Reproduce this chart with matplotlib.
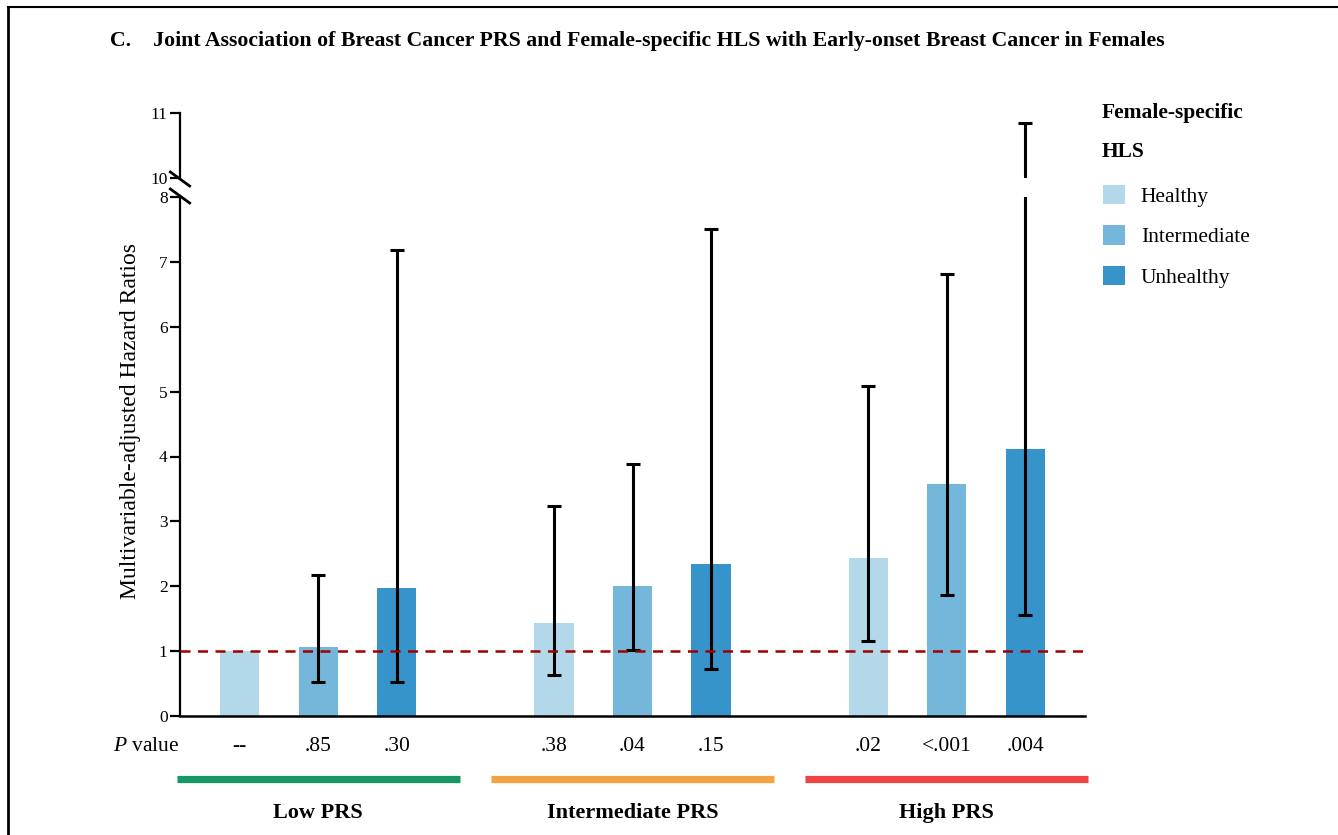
import numpy as np
import matplotlib
matplotlib.use('Agg')
import matplotlib.pyplot as plt
from matplotlib.lines import Line2D
from matplotlib.patches import Patch

plt.rcParams['font.family'] = ['Liberation Serif', 'DejaVu Serif']
plt.rcParams['mathtext.fontset'] = 'custom'
plt.rcParams['mathtext.rm'] = 'Liberation Serif'
plt.rcParams['mathtext.it'] = 'Liberation Serif:italic'

# data
groups = ['Low PRS', 'Intermediate PRS', 'High PRS']
hls = ['Healthy', 'Intermediate', 'Unhealthy']
hr = [1.00, 1.07, 1.97, 1.43, 2.00, 2.35, 2.43, 3.57, 4.11]
ci_low = [1.00, 0.52, 0.53, 0.63, 1.01, 0.72, 1.16, 1.86, 1.55]
ci_high = [1.00, 2.17, 7.19, 3.23, 3.89, 7.51, 5.08, 6.82, 10.85]
p_values = ['--', '.85', '.30', '.38', '.04', '.15', '.02', '<.001', '.004']

bar_colors = ['#b2d8ea', '#74b7db', '#3694cb']
group_colors = ['#169866', '#f5a243', '#ee4544']

# positions: 3 bars per group, one empty slot between groups
x = np.array([g * 4 + i for g in range(3) for i in range(3)], dtype=float)
colors = [bar_colors[i] for g in range(3) for i in range(3)]
hr = np.array(hr)
yerr = np.array([hr - np.array(ci_low), np.array(ci_high) - hr])
has_ci = np.array(ci_high) > np.array(ci_low)

W, H = 1338, 835
fig = plt.figure(figsize=(W / 100, H / 100), dpi=100)

# broken y axis: 0-8 below, 10-11 above
ax = fig.add_axes([180 / W, 1 - 716 / H, 905 / W, 519 / H])
ax_top = fig.add_axes([180 / W, 1 - 178 / H, 905 / W, 65 / H])

for a in (ax, ax_top):
    a.bar(x, hr, width=0.5, color=colors, zorder=2)
    a.errorbar(x[has_ci], hr[has_ci], yerr=yerr[:, has_ci], fmt='none',
               ecolor='black', elinewidth=2.2, capsize=5, capthick=2.2, zorder=3)
    a.set_xlim(-0.76, 10.76)
    a.spines['top'].set_visible(False)
    a.spines['right'].set_visible(False)
    a.spines['left'].set_linewidth(1.6)
    a.tick_params(axis='y', length=7, width=1.6, labelsize=12.5, pad=2)

ax.set_ylim(0, 8)
ax.set_yticks(range(0, 9))
ax.axhline(1, color='#a00000', linestyle=(0, (4, 3)), linewidth=1.8, zorder=4)
ax.spines['bottom'].set_linewidth(1.8)

ax_top.set_ylim(10, 11)
ax_top.set_yticks([10, 11])
ax_top.spines['bottom'].set_visible(False)
ax_top.set_xticks([])

# break marks on the y axis
d = 0.0072
kw = dict(transform=fig.transFigure, color='black', linewidth=2, clip_on=False)
x0 = 180 / W
fig.add_artist(Line2D([x0 - d, x0 + d], [1 - 172 / H, 1 - 186 / H], **kw))
fig.add_artist(Line2D([x0 - d, x0 + d], [1 - 189 / H, 1 - 203 / H], **kw))

# p values as x tick labels
ax.set_xticks(x)
ax.set_xticklabels(p_values, fontsize=15.5)
ax.tick_params(axis='x', length=0, pad=15)
ax.text(-0.001, -0.058, r'$P$ value', transform=ax.transAxes, ha='right',
        va='center', fontsize=15.5)

ax.set_ylabel('Multivariable-adjusted Hazard Ratios', fontsize=17)
ax.yaxis.set_label_coords(-0.043, 0.568)

# group bars and labels under the axis
trans = ax.get_xaxis_transform()
for g, name in enumerate(groups):
    c = g * 4 + 1
    ax.plot([c - 1.8, c + 1.8], [-0.121, -0.121], color=group_colors[g],
            linewidth=5.2, solid_capstyle='butt', transform=trans, clip_on=False)
    ax.text(c, -0.187, name, transform=trans, ha='center', va='center',
            fontsize=16, fontweight='bold')

# legend
fig.text(1102 / W, 1 - 113 / H, 'Female-specific', fontsize=15.5,
         fontweight='bold', va='center', ha='left')
fig.text(1102 / W, 1 - 152 / H, 'HLS', fontsize=15.5,
         fontweight='bold', va='center', ha='left')
handles = [Patch(facecolor=c, edgecolor='none', label=l) for c, l in zip(bar_colors, hls)]
fig.legend(handles=handles, loc='upper left', bbox_to_anchor=(1103 / W, 1 - 185 / H),
           frameon=False, fontsize=15.5, handlelength=1.0, handleheight=1.0,
           handletextpad=0.75, labelspacing=0.85, borderpad=0, borderaxespad=0)

# title
fig.text(110 / W, 1 - 41 / H,
         'C.    Joint Association of Breast Cancer PRS and Female-specific HLS '
         'with Early-onset Breast Cancer in Females',
         fontsize=15.7, fontweight='bold', va='center', ha='left')

# panel frame
fig.add_artist(Line2D([8 / W, 1.0], [1 - 7 / H, 1 - 7 / H], transform=fig.transFigure,
                      color='black', linewidth=1.5))
fig.add_artist(Line2D([8 / W, 8 / W], [1 - 7 / H, 0.0], transform=fig.transFigure,
                      color='black', linewidth=2))

fig.savefig('out.png', dpi=100)
